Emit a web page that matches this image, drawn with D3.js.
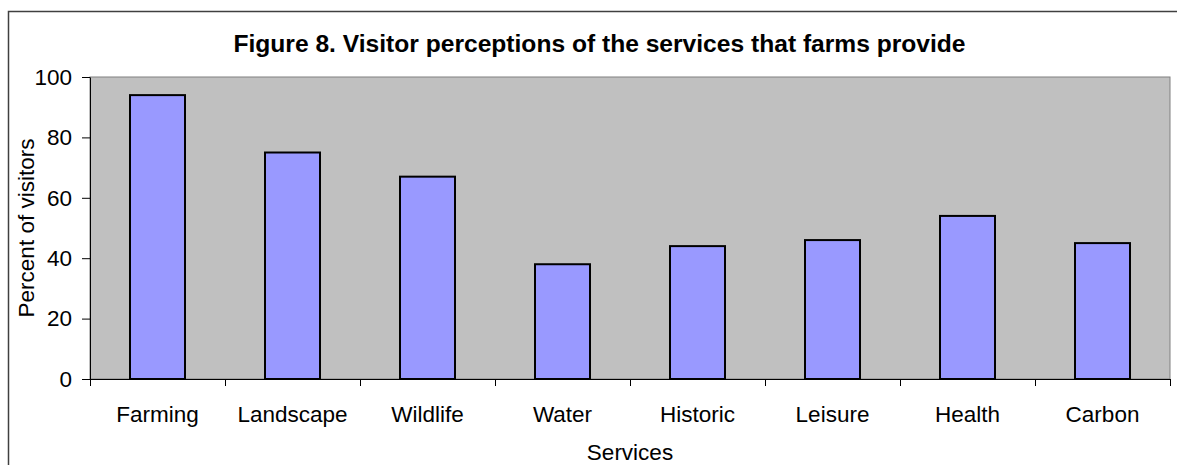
<!DOCTYPE html>
<html>
<head>
<meta charset="utf-8">
<script src="https://cdn.jsdelivr.net/npm/d3@7"></script>
<style>
  body { margin: 0; background: #fff; }
  text { font-family: "Liberation Sans", Arial, sans-serif; fill: #000; }
</style>
</head>
<body>
<div id="chart"></div>
<script>
let services = ['Farming', 'Landscape', 'Wildlife', 'Water', 'Historic', 'Leisure', 'Health', 'Carbon']
let percents = [94, 75, 67, 38, 44, 46, 54, 45]
let yTicks = [0, 20, 40, 60, 80, 100]

let width = 1177
let height = 465
let plot = {left: 90, right: 1170, top: 77, bottom: 379}

let svg = d3.select('#chart')
  .append('svg')
    .attr('width', width)
    .attr('height', height)

// outer chart frame (runs off the right and bottom edges)
svg.append('rect')
  .attr('x', 8.5).attr('y', 11.5)
  .attr('width', 1200).attr('height', 500)
  .attr('fill', 'none')
  .attr('stroke', '#404040')
  .attr('stroke-width', 1.5)

svg.append('text')
  .attr('x', 599.5).attr('y', 52)
  .attr('text-anchor', 'middle')
  .style('font-size', '24.6px')
  .style('font-weight', 'bold')
  .text('Figure 8. Visitor perceptions of the services that farms provide')

let x = d3.scaleBand().domain(services).range([plot.left, plot.right]).paddingInner(0).paddingOuter(0)
let y = d3.scaleLinear().domain([0, 100]).range([plot.bottom, plot.top])

// plot background
svg.append('rect')
  .attr('x', plot.left).attr('y', plot.top)
  .attr('width', plot.right - plot.left).attr('height', plot.bottom - plot.top)
  .attr('fill', '#c0c0c0')
  .attr('stroke', '#808080')
  .attr('stroke-width', 1)

let barW = 55
svg.selectAll('rect.bar')
  .data(services)
  .enter()
  .append('rect')
    .attr('class', 'bar')
    .attr('x', d => x(d) + x.bandwidth() / 2 - barW / 2)
    .attr('y', (d, i) => y(percents[i]))
    .attr('width', barW)
    .attr('height', (d, i) => y(0) - y(percents[i]))
    .attr('fill', '#9999ff')
    .attr('stroke', '#000')
    .attr('stroke-width', 2)

// y axis
let yAxis = svg.append('g')
  .attr('transform', `translate(${plot.left},0)`)
  .call(d3.axisLeft(y).tickValues(yTicks).tickSize(8).tickPadding(10).tickSizeOuter(0))
yAxis.select('.domain').attr('stroke', '#000')
yAxis.selectAll('text').style('font-size', '22.5px')

// x axis: ticks sit on the category boundaries
let xAxis = svg.append('g')
  .attr('transform', `translate(0,${plot.bottom})`)
  .call(d3.axisBottom(x).tickSize(0).tickPadding(27))
xAxis.select('.domain').attr('stroke', '#000')
xAxis.selectAll('text').style('font-size', '22.5px')

let bounds = services.map(d => x(d)).concat([plot.right])
svg.append('g')
  .selectAll('line')
  .data(bounds)
  .enter()
  .append('line')
    .attr('x1', d => d + 0.5).attr('x2', d => d + 0.5)
    .attr('y1', plot.bottom).attr('y2', plot.bottom + 7)
    .attr('stroke', '#000')

svg.append('text')
  .attr('x', (plot.left + plot.right) / 2).attr('y', 460)
  .attr('text-anchor', 'middle')
  .style('font-size', '22.5px')
  .text('Services')

svg.append('text')
  .attr('transform', `translate(34,${(plot.top + plot.bottom) / 2}) rotate(-90)`)
  .attr('text-anchor', 'middle')
  .style('font-size', '22.5px')
  .text('Percent of visitors')
</script>
</body>
</html>
